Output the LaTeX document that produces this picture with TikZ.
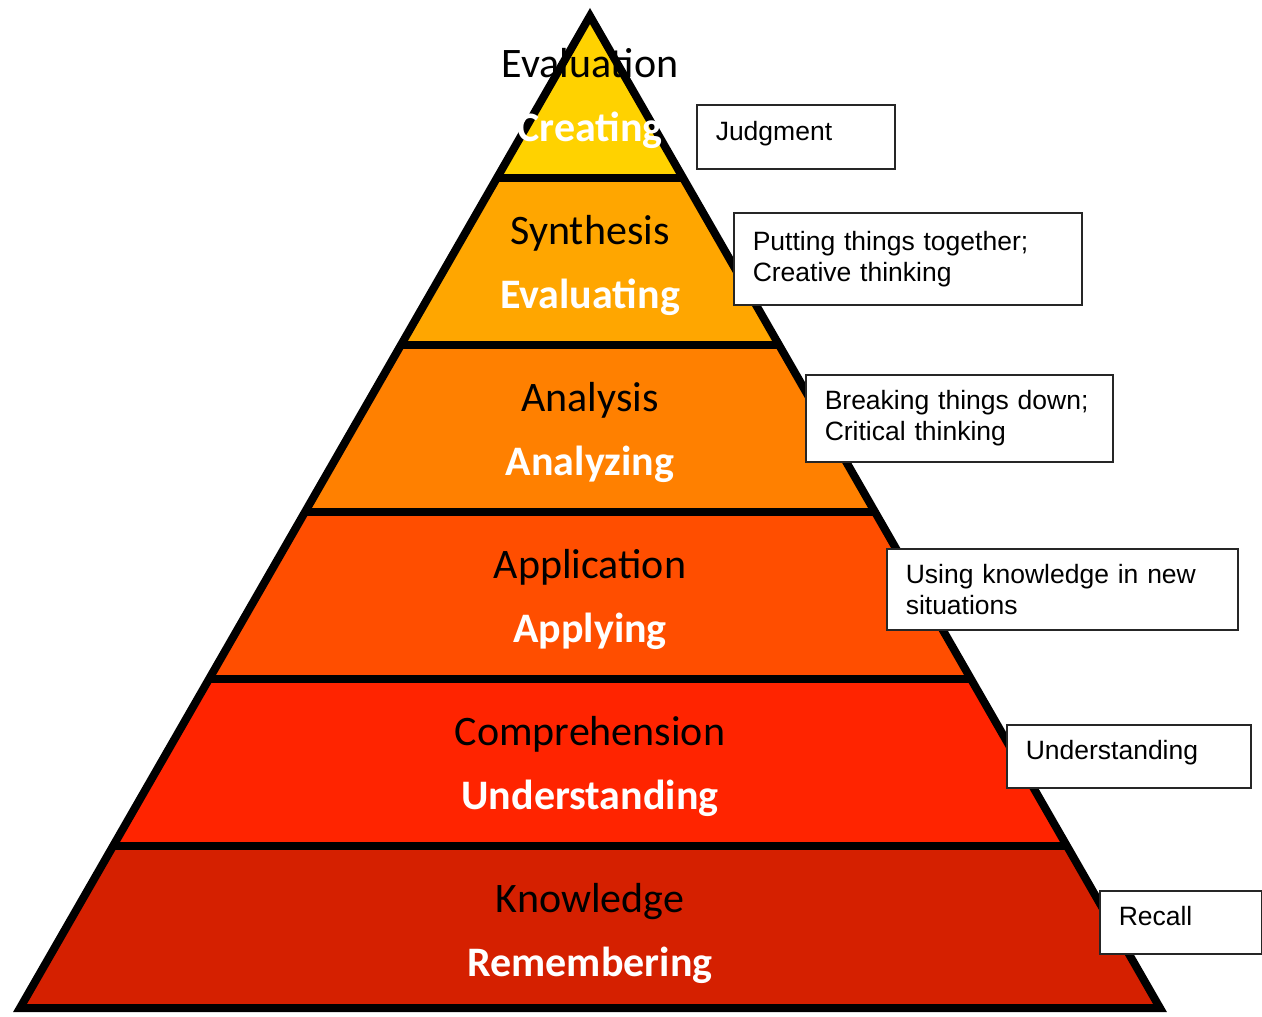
\documentclass[tikz,border=0pt]{standalone}
\usepackage{fontspec}
\setmainfont{Carlito}
\newfontfamily\boxfont{Liberation Sans}
\usetikzlibrary{calc}
\definecolor{lvlA}{RGB}{255,210,0}
\definecolor{lvlB}{RGB}{255,166,0}
\definecolor{lvlC}{RGB}{255,128,0}
\definecolor{lvlD}{RGB}{255,78,0}
\definecolor{lvlE}{RGB}{255,36,0}
\definecolor{lvlF}{RGB}{213,32,0}
\tikzstyle{edge} = [line width=8pt, line join=miter, black]
\tikzstyle{stage} = [font=\fontsize{42}{48}\selectfont, anchor=base, inner sep=0pt]
\tikzstyle{verb} = [font=\bfseries\fontsize{42}{48}\selectfont, text=white, anchor=base, inner sep=0pt]
\tikzstyle{note} = [rectangle, draw=black!85, line width=1.5pt, fill=white, anchor=north west, align=left, inner xsep=19pt, inner ysep=0pt, font=\boxfont\fontsize{26.5}{31}\selectfont]
\tikzstyle{oneline} = [text depth=12pt]

\begin{document}
\begin{tikzpicture}[x=1pt, y=-1pt]
  \useasboundingbox (0,0) rectangle (1262,1017);

  % Pyramid corners
  \coordinate (apex) at (590,16);
  \coordinate (bl) at (20,1008);
  \coordinate (br) at (1160,1008);

  % Coloured layers
  \foreach \ytop/\ybot/\col in {16/178/lvlA, 178/345/lvlB, 345/512/lvlC, 512/679/lvlD, 679/846/lvlE, 846/1008/lvlF}{
    \fill[\col] ($(apex)!{(\ytop-16)/992}!(bl)$) -- ($(apex)!{(\ytop-16)/992}!(br)$)
      -- ($(apex)!{(\ybot-16)/992}!(br)$) -- ($(apex)!{(\ybot-16)/992}!(bl)$) -- cycle;
  }

  % Separators and outline
  \foreach \y in {178,345,512,679,846}{
    \draw[edge] ($(apex)!{(\y-16)/992}!(bl)$) -- ($(apex)!{(\y-16)/992}!(br)$);
  }
  \draw[edge] (apex) -- (br) -- (bl) -- cycle;

  % Level names
  \node (evaluation) [stage] at (590,77) {Evaluation};
  \node (creating) [verb] at (590,141) {Creating};
  \node (synthesis) [stage] at (590,244) {Synthesis};
  \node (evaluating) [verb] at (590,308) {Evaluating};
  \node (analysis) [stage] at (590,411) {Analysis};
  \node (analyzing) [verb] at (590,475) {Analyzing};
  \node (application) [stage] at (590,578) {Application};
  \node (applying) [verb] at (590,642) {Applying};
  \node (comprehension) [stage] at (590,745) {Comprehension};
  \node (understanding) [verb] at (590,809) {Understanding};
  \node (knowledge) [stage] at (590,912) {Knowledge};
  \node (remembering) [verb] at (590,976) {Remembering};

  % Side notes
  \node (judge) [note, oneline, text width=160pt, minimum height=64pt] at (696,104) {Judgment};
  \node (together) [note, text width=310pt, minimum height=92pt] at (733,212) {Putting things together;\\Creative thinking};
  \node (breakdown) [note, text width=269pt, minimum height=87pt] at (805,374) {Breaking things down;\\Critical thinking};
  \node (usage) [note, text width=313pt, minimum height=81pt] at (886,548) {Using knowledge in new\\situations};
  \node (grasp) [note, oneline, text width=206pt, minimum height=63pt] at (1006,724) {Understanding};
  \node (recall) [note, oneline, text width=124pt, minimum height=63pt] at (1099,890) {Recall};

\end{tikzpicture}
\end{document}
